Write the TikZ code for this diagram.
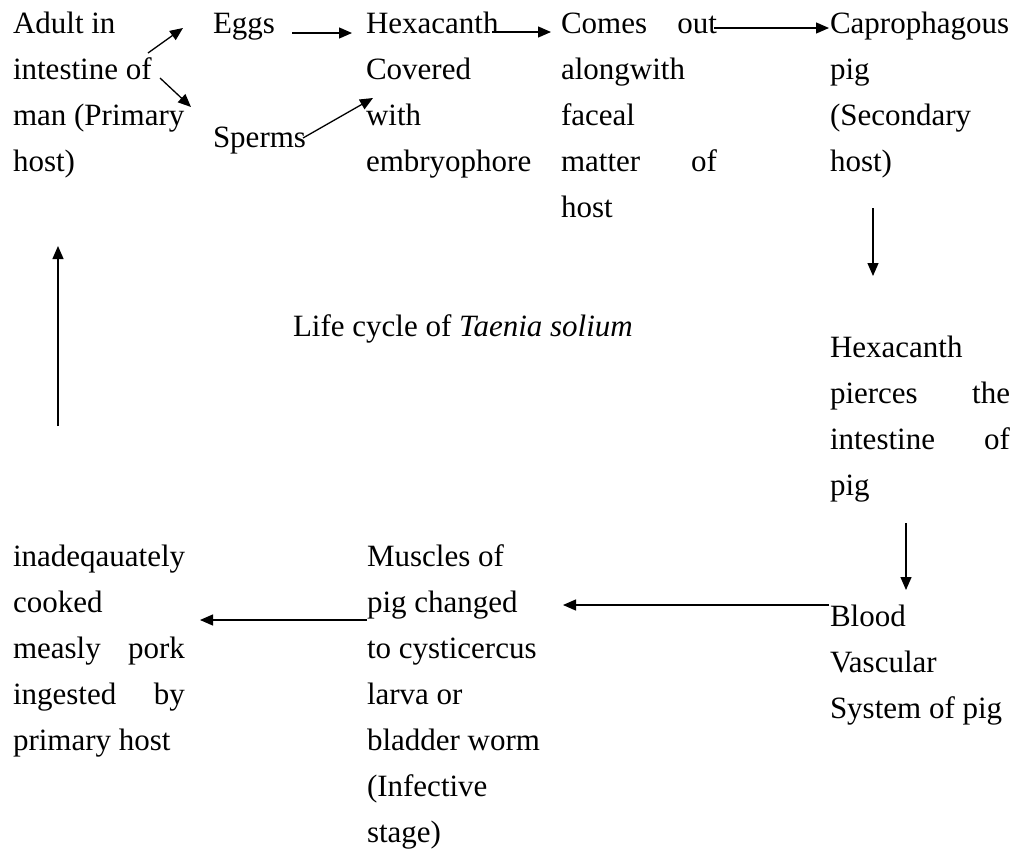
\documentclass[tikz,border=0pt]{standalone}
\usepackage{fontspec}
\setmainfont{Liberation Serif}
\usetikzlibrary{arrows.meta}
\newcommand{\blk}[2]{\parbox[t]{#1pt}{#2}}
\begin{document}
\begin{tikzpicture}[x=1pt,y=-1pt,
  txt/.style={anchor=base west,inner sep=0pt,outer sep=0pt,font=\fontsize{31}{46}\selectfont},
  arr/.style={line width=1.3pt,-{Triangle[length=13pt,width=11pt]}}]
\useasboundingbox[fill=white] (0,0) rectangle (1026,852);
% text blocks
\node[txt] (adult) at (13,33) {\blk{200}{Adult in\\ intestine of\\ man (Primary\\ host)}};
\node[txt] (eggs) at (213,33) {Eggs};
\node[txt] (sperms) at (213,147) {Sperms};
\node[txt] (hexa) at (366,33) {\blk{190}{Hexacanth\\ Covered\\ with\\ embryophore}};
\node[txt] (comes) at (561,33) {\blk{156}{Comes\hfill out\\ alongwith\\ faceal\\ matter\hfill of\\ host}};
\node[txt] (capro) at (830,33) {\blk{190}{Caprophagous\\ pig\\ (Secondary\\ host)}};
\node[txt] (life) at (293,336) {Life cycle of \textit{Taenia solium}};
\node[txt] (pierce) at (830,357) {\blk{180}{Hexacanth\\ pierces\hfill the\\ intestine\hfill of\\ pig}};
\node[txt] (blood) at (830,626) {\blk{190}{Blood\\ Vascular\\ System of pig}};
\node[txt] (muscles) at (367,566) {\blk{190}{Muscles of\\ pig changed\\ to cysticercus\\ larva or\\ bladder worm\\ (Infective\\ stage)}};
\node[txt] (inad) at (13,566) {\blk{172}{inadeqauately\\ cooked\\ measly\hfill pork\\ ingested\hfill by\\ primary host}};
% connector end points
\coordinate (a1s) at (148,53);  \coordinate (a1e) at (183,28);
\coordinate (a2s) at (160,78);  \coordinate (a2e) at (191,107);
\coordinate (a3s) at (292,33);  \coordinate (a3e) at (352,33);
\coordinate (a4s) at (303,138); \coordinate (a4e) at (373,98);
\coordinate (a5s) at (492,32);  \coordinate (a5e) at (551,32);
\coordinate (a6s) at (714,28);  \coordinate (a6e) at (829,28);
\coordinate (a7s) at (873,208); \coordinate (a7e) at (873,276);
\coordinate (a8s) at (906,523); \coordinate (a8e) at (906,590);
\coordinate (a9s) at (829,605); \coordinate (a9e) at (563,605);
\coordinate (a10s) at (367,620); \coordinate (a10e) at (200,620);
\coordinate (a11s) at (58,426); \coordinate (a11e) at (58,246);
\draw[arr] (a1s) -- (a1e);
\draw[arr] (a2s) -- (a2e);
\draw[arr] (a3s) -- (a3e);
\draw[arr] (a4s) -- (a4e);
\draw[arr] (a5s) -- (a5e);
\draw[arr] (a6s) -- (a6e);
\draw[arr] (a7s) -- (a7e);
\draw[arr] (a8s) -- (a8e);
\draw[arr] (a9s) -- (a9e);
\draw[arr] (a10s) -- (a10e);
\draw[arr] (a11s) -- (a11e);
\end{tikzpicture}
\end{document}
